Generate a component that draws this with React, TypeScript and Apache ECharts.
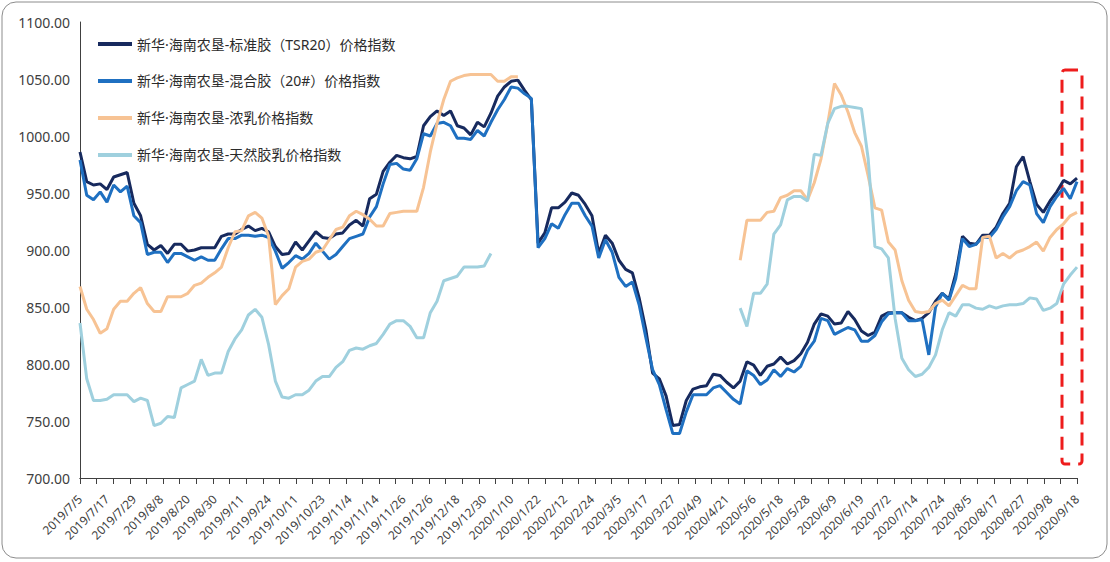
import { useEffect, useRef } from "react";
import * as echarts from "echarts";

// Tick labels on the x axis (every 4th category is labelled)
const tickLabels = [
  "2019/7/5", "2019/7/17", "2019/7/29", "2019/8/8", "2019/8/20", "2019/8/30",
  "2019/9/11", "2019/9/24", "2019/10/11", "2019/10/23", "2019/11/4", "2019/11/14",
  "2019/11/26", "2019/12/6", "2019/12/18", "2019/12/30", "2020/1/10", "2020/1/22",
  "2020/2/12", "2020/2/24", "2020/3/5", "2020/3/17", "2020/3/27", "2020/4/9",
  "2020/4/21", "2020/5/6", "2020/5/18", "2020/5/28", "2020/6/9", "2020/6/19",
  "2020/7/2", "2020/7/14", "2020/7/24", "2020/8/5", "2020/8/17", "2020/8/27",
  "2020/9/8", "2020/9/18",
];

const seriesNames = [
  "新华·海南农垦-标准胶（TSR20）价格指数",
  "新华·海南农垦-混合胶（20#）价格指数",
  "新华·海南农垦-浓乳价格指数",
  "新华·海南农垦-天然胶乳价格指数",
];

const tsr20 = [
  986, 960, 957, 958, 953, 964, 966, 968, 941, 930,
  905, 900, 904, 897, 905, 905, 899, 900, 902, 902,
  902, 912, 914, 914, 918, 921, 917, 919, 916, 903,
  896, 897, 907, 900, 908, 916, 911, 910, 914, 915,
  922, 926, 921, 945, 949, 969, 977, 983, 981, 980,
  982, 1009, 1017, 1022, 1018, 1022, 1009, 1007, 1001, 1012,
  1008, 1020, 1035, 1043, 1048, 1049, 1040, 1032, 906, 915,
  937, 937, 942, 950, 948, 940, 930, 897, 913, 906,
  891, 883, 880, 858, 830, 792, 787, 772, 746, 747,
  768, 778, 780, 781, 791, 790, 784, 779, 785, 802,
  799, 790, 798, 800, 806, 800, 803, 809, 819, 835,
  844, 842, 835, 836, 846, 839, 829, 825, 828, 842,
  845, 845, 845, 841, 838, 840, 845, 855, 862, 857,
  879, 912, 906, 905, 913, 913, 920, 932, 941, 973,
  982, 960, 940, 933, 943, 951, 961, 958, 963,
];

const mix20 = [
  979, 948, 944, 951, 942, 957, 951, 956, 930, 924,
  896, 898, 898, 889, 897, 897, 894, 891, 894, 891,
  891, 901, 910, 910, 913, 913, 912, 913, 911, 899,
  884, 889, 895, 892, 897, 906, 899, 892, 896, 903,
  910, 912, 914, 929, 938, 958, 975, 976, 971, 970,
  980, 1002, 1000, 1011, 1012, 1009, 998, 998, 997, 1005,
  1000, 1012, 1023, 1032, 1043, 1042, 1037, 1033, 902, 910,
  923, 919, 931, 941, 941, 930, 921, 893, 909, 898,
  876, 868, 872, 852, 823, 795, 782, 760, 739, 739,
  758, 773, 773, 773, 779, 781, 775, 769, 765, 794,
  790, 782, 786, 795, 789, 796, 793, 798, 812, 820,
  840, 838, 826, 829, 832, 830, 820, 820, 825, 837,
  844, 845, 845, 838, 838, 839, 808, 850, 862, 856,
  875, 910, 903, 905, 911, 911, 918, 929, 938, 952,
  960, 957, 932, 924, 938, 947, 954, 945, 960,
];

const latexConc = [
  868, 848, 839, 827, 831, 848, 855, 855, 862, 867,
  853, 846, 846, 859, 859, 859, 862, 869, 871, 876,
  880, 885, 902, 916, 917, 930, 933, 928, 912, 852,
  860, 866, 885, 890, 892, 898, 900, 909, 918, 920,
  930, 934, 931, 927, 921, 921, 932, 933, 934, 934,
  934, 955, 986, 1011, 1032, 1048, 1051, 1053, 1054, 1054,
  1054, 1054, 1048, 1048, 1052, 1052, null, null, null, null,
  null, null, null, null, null, null, null, null, null, null,
  null, null, null, null, null, null, null, null, null, null,
  null, null, null, null, null, null, null, null, 891, 926,
  926, 926, 933, 934, 946, 948, 952, 952, 944, 959,
  980, 1011, 1046, 1036, 1021, 1003, 991, 965, 937, 935,
  907, 900, 873, 856, 846, 845, 846, 853, 856, 851,
  860, 869, 866, 866, 911, 912, 893, 897, 893, 898,
  900, 903, 907, 899, 911, 918, 923, 930, 933,
];

const latexNat = [
  836, 787, 768, 768, 769, 773, 773, 773, 767, 770,
  768, 746, 748, 754, 753, 779, 782, 785, 804, 790,
  792, 792, 811, 822, 830, 843, 848, 841, 817, 785,
  771, 770, 773, 773, 777, 785, 789, 789, 797, 802,
  812, 814, 813, 816, 818, 826, 835, 838, 838, 833,
  823, 823, 845, 855, 873, 875, 877, 885, 885, 885,
  886, 897, null, null, null, null, null, null, null, null,
  null, null, null, null, null, null, null, null, null, null,
  null, null, null, null, null, null, null, null, null, null,
  null, null, null, null, null, null, null, null, 849, 833,
  862, 862, 870, 914, 922, 944, 947, 947, 943, 984,
  983, 1011, 1024, 1026, 1026, 1025, 1024, 980, 903, 901,
  893, 840, 805, 795, 789, 791, 797, 808, 830, 845,
  842, 852, 852, 849, 848, 851, 849, 851, 852, 852,
  853, 858, 857, 847, 849, 853, 870, 878, 885,
];

const seriesColors = ["#172a5e", "#1f70c1", "#f7c394", "#9fd0de"];

// 4 sampled points per labelled interval (hidden in-between categories)
const categories: string[] = tickLabels.flatMap((t, k) =>
  k === tickLabels.length - 1 ? [t] : [t, t + " +2", t + " +4", t + " +6"]
);

// Minor tick slots along the x axis (ticks are denser than labels)
const tickSlots: string[] = Array.from({ length: 61 }, (_, i) => "t" + i);

export default function App() {
  const ref = useRef<HTMLDivElement>(null);

  useEffect(() => {
    if (!ref.current) return;
    const chart = echarts.init(ref.current, undefined, { renderer: "svg" });
    const data = [tsr20, mix20, latexConc, latexNat];
    chart.setOption({
      animation: false,
      backgroundColor: "#ffffff",
      textStyle: { fontFamily: "'Noto Sans', 'Noto Sans CJK SC', sans-serif" },
      grid: { left: 80, right: 33, top: 22, bottom: 84, containLabel: false },
      legend: {
        orient: "vertical",
        left: 93,
        top: 32,
        icon: "rect",
        itemWidth: 34,
        itemHeight: 4,
        itemGap: 23,
        data: seriesNames,
        textStyle: {
          fontSize: 14,
          color: "#2b2b2b",
          fontFamily: "'Noto Sans', 'Noto Sans CJK SC', sans-serif",
        },
      },
      xAxis: [
        {
          type: "category",
          data: categories,
          boundaryGap: false,
          axisLine: { show: true, lineStyle: { color: "#404040", width: 1 } },
          axisTick: { show: false },
          axisLabel: {
            interval: 3,
            rotate: 45,
            fontSize: 12,
            color: "#404040",
            margin: 19,
          },
          splitLine: { show: false },
        },
        {
          type: "category",
          data: tickSlots,
          boundaryGap: false,
          position: "bottom",
          axisLine: { show: true, lineStyle: { color: "#404040", width: 1 } },
          axisTick: {
            show: true,
            interval: 0,
            length: 6,
            lineStyle: { color: "#404040", width: 1 },
          },
          axisLabel: { show: false },
          splitLine: { show: false },
        },
      ],
      yAxis: {
        type: "value",
        min: 700,
        max: 1100,
        interval: 50,
        axisLine: { show: true, lineStyle: { color: "#404040", width: 1 } },
        axisTick: { show: false },
        axisLabel: {
          fontSize: 14,
          color: "#404040",
          margin: 10,
          formatter: (v: number) => v.toFixed(2),
        },
        splitLine: { show: false },
      },
      series: seriesNames.map((name, i) => ({
        name,
        type: "line",
        xAxisIndex: 0,
        data: data[i],
        symbol: "none",
        connectNulls: false,
        lineStyle: { width: 3, color: seriesColors[i] },
        itemStyle: { color: seriesColors[i] },
      })),
      graphic: [
        {
          type: "rect",
          shape: { x: 2, y: 2, width: 1105, height: 556, r: 14 },
          style: { fill: "none", stroke: "#8c8c8c", lineWidth: 1 },
          silent: true,
        },
        {
          type: "rect",
          shape: { x: 1062, y: 70, width: 20, height: 394, r: 3 },
          style: { fill: "none", stroke: "#ee1c1c", lineWidth: 3, lineDash: [13, 8] },
          silent: true,
        },
      ],
    });
    return () => chart.dispose();
  }, []);

  return (
    <div
      ref={ref}
      style={{ position: "fixed", left: 0, top: 0, width: 1110, height: 562 }}
    />
  );
}
